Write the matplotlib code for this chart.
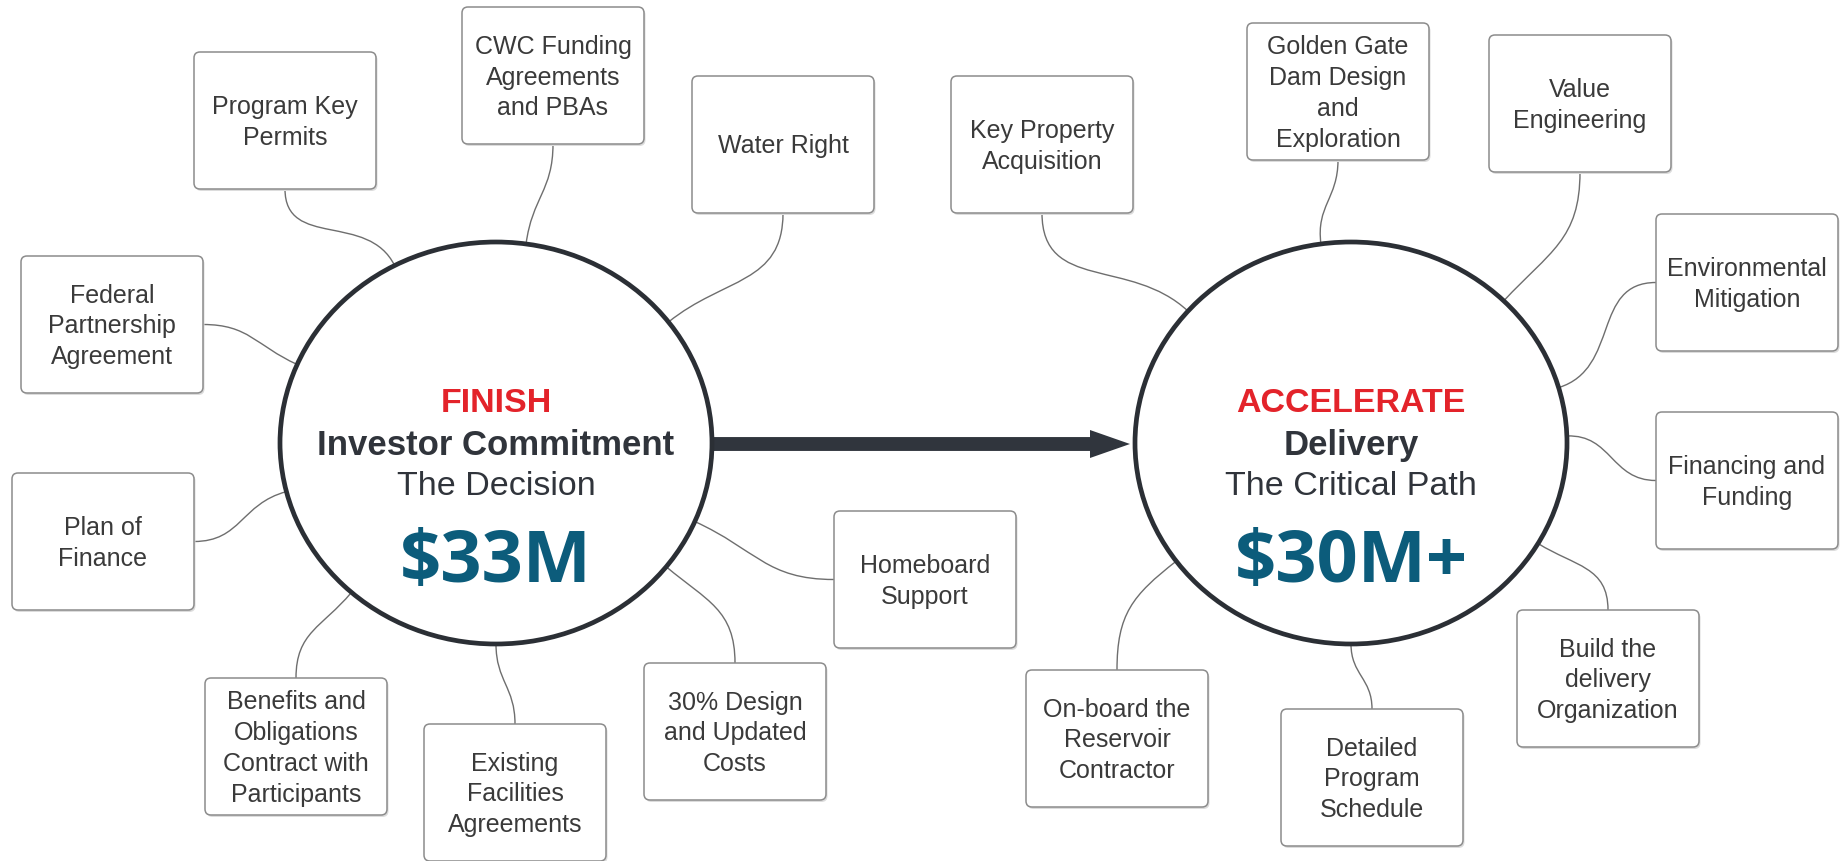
import numpy as np
import matplotlib
matplotlib.use('Agg')
import matplotlib.pyplot as plt
from matplotlib.patches import Ellipse, FancyBboxPatch, PathPatch, Polygon
from matplotlib.path import Path

# === 数据 ===
hub_titles = ["FINISH", "ACCELERATE"]
hub_subjects = ["Investor Commitment", "Delivery"]
hub_subtitles = ["The Decision", "The Critical Path"]
hub_amounts = ["$33M", "$30M+"]

left_labels = [
    "Program Key\nPermits",
    "CWC Funding\nAgreements\nand PBAs",
    "Water Right",
    "Federal\nPartnership\nAgreement",
    "Plan of\nFinance",
    "Benefits and\nObligations\nContract with\nParticipants",
    "Existing\nFacilities\nAgreements",
    "30% Design\nand Updated\nCosts",
    "Homeboard\nSupport",
]
right_labels = [
    "Key Property\nAcquisition",
    "Golden Gate\nDam Design\nand\nExploration",
    "Value\nEngineering",
    "Environmental\nMitigation",
    "Financing and\nFunding",
    "Build the\ndelivery\nOrganization",
    "Detailed\nProgram\nSchedule",
    "On-board the\nReservoir\nContractor",
]

# === 布局（像素）===
W, H = 1841, 862
BOX_W, BOX_H = 182, 137
RX, RY = 216, 201
hub_centers = [(496, 444), (1351, 444)]

left_pos = [(194, 53), (462, 8), (692, 77), (21, 257), (12, 474),
            (205, 679), (424, 725), (644, 664), (834, 512)]
left_side = ['bottom', 'bottom', 'bottom', 'right', 'right',
             'top', 'top', 'top', 'left']
left_angle = [118, 82, 37, 157, 194, 228, 270, 322, 337]

right_pos = [(951, 77), (1247, 24), (1489, 36), (1656, 215), (1656, 413),
             (1517, 611), (1281, 710), (1026, 671)]
right_side = ['bottom', 'bottom', 'bottom', 'left', 'left', 'top', 'top', 'top']
right_angle = [139, 98, 45, 16, 2, 330, 270, 216]

TEXT_GRAY = '#3a3a3a'
HUB_DARK = '#30343b'
RED = '#e3232a'
TEAL = '#0c5c7b'

fig = plt.figure(figsize=(W / 100, H / 100), dpi=100)
ax = fig.add_axes([0, 0, 1, 1])
ax.set_xlim(0, W)
ax.set_ylim(H, 0)
ax.axis('off')


def box_anchor(x0, y0, side):
    if side == 'bottom':
        return np.array([x0 + BOX_W / 2, y0 + BOX_H]), np.array([0, 1])
    if side == 'top':
        return np.array([x0 + BOX_W / 2, y0]), np.array([0, -1])
    if side == 'left':
        return np.array([x0, y0 + BOX_H / 2]), np.array([-1, 0])
    return np.array([x0 + BOX_W, y0 + BOX_H / 2]), np.array([1, 0])


def hub_anchor(cx, cy, deg):
    t = np.radians(deg)
    p = np.array([cx + RX * np.cos(t), cy - RY * np.sin(t)])
    n = np.array([np.cos(t) / RX, -np.sin(t) / RY])
    return p, n / np.linalg.norm(n)


def draw_node(label, pos, side, angle, center):
    x0, y0 = pos
    # 连接曲线
    p0, d0 = box_anchor(x0, y0, side)
    p3, d3 = hub_anchor(center[0], center[1], angle)
    dist = np.linalg.norm(p3 - p0)
    k = 0.45 * dist
    verts = [p0, p0 + k * d0, p3 + k * d3, p3]
    path = Path(verts, [Path.MOVETO, Path.CURVE4, Path.CURVE4, Path.CURVE4])
    ax.add_patch(PathPatch(path, facecolor='none', edgecolor='#6e6e6e',
                           lw=1.0, zorder=1))
    # 阴影 + 方框
    ax.add_patch(FancyBboxPatch((x0 + 1.5, y0 + 2), BOX_W, BOX_H,
                                boxstyle='round,pad=0,rounding_size=6',
                                facecolor='#dcdcdc', edgecolor='none', zorder=2))
    ax.add_patch(FancyBboxPatch((x0, y0), BOX_W, BOX_H,
                                boxstyle='round,pad=0,rounding_size=6',
                                facecolor='white', edgecolor='#8c8c8c',
                                lw=1.1, zorder=3))
    ax.text(x0 + BOX_W / 2, y0 + BOX_H / 2 + 1, label, ha='center', va='center',
            fontsize=18, color=TEXT_GRAY, family='Liberation Sans',
            linespacing=1.36, zorder=4)


for lab, pos, side, ang in zip(left_labels, left_pos, left_side, left_angle):
    draw_node(lab, pos, side, ang, hub_centers[0])
for lab, pos, side, ang in zip(right_labels, right_pos, right_side, right_angle):
    draw_node(lab, pos, side, ang, hub_centers[1])

# === 中心圆 ===
for (cx, cy), title, subj, sub, amt in zip(hub_centers, hub_titles, hub_subjects,
                                           hub_subtitles, hub_amounts):
    ax.add_patch(Ellipse((cx, cy), 2 * RX, 2 * RY, facecolor='white',
                         edgecolor='#2b2f35', lw=3.4, zorder=5))
    ax.text(cx, cy - 32, title, ha='center', va='baseline', fontsize=24.5,
            fontweight='bold', color=RED, family='Liberation Sans', zorder=6)
    ax.text(cx, cy + 11, subj, ha='center', va='baseline', fontsize=25,
            fontweight='bold', color=HUB_DARK, family='Liberation Sans', zorder=6)
    ax.text(cx, cy + 51, sub, ha='center', va='baseline', fontsize=24.5,
            color=HUB_DARK, family='Liberation Sans', zorder=6)
    ax.text(cx, cy + 138, amt, ha='center', va='baseline', fontsize=52,
            fontweight='bold', color=TEAL, family='Open Sans', zorder=6)

# === 箭头 ===
x_start = hub_centers[0][0] + RX
x_tip = hub_centers[1][0] - RX - 5
head_len, head_half = 40, 14
y_arr = hub_centers[0][1] + 1
ax.plot([x_start, x_tip - head_len + 2], [y_arr, y_arr], color='#30353d',
        lw=10, solid_capstyle='butt', zorder=4)
ax.add_patch(Polygon([(x_tip - head_len, y_arr - head_half),
                      (x_tip, y_arr),
                      (x_tip - head_len, y_arr + head_half)],
                     closed=True, facecolor='#30353d', edgecolor='none', zorder=4))

fig.savefig('out.png', dpi=100, facecolor='white')
